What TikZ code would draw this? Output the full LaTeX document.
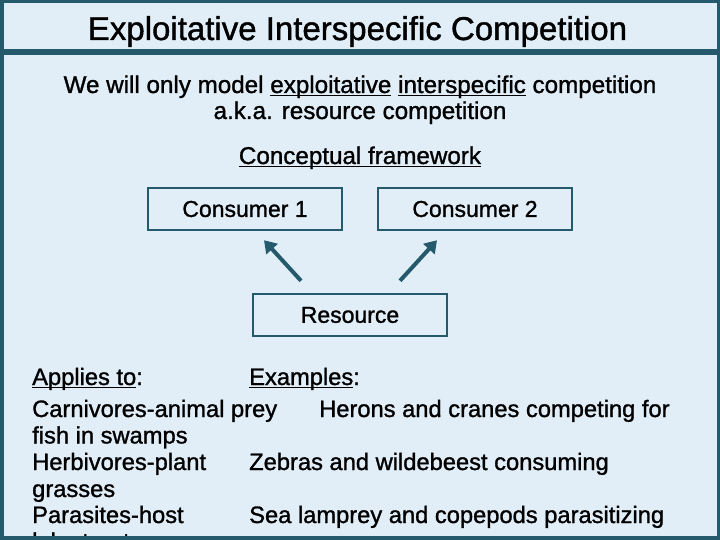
\documentclass[tikz,border=0pt]{standalone}
\usepackage{fontspec}
\setmainfont[FakeBold=1.2]{Liberation Sans}
\usetikzlibrary{arrows.meta}
\definecolor{teal1}{HTML}{245A6B}
\definecolor{pale}{HTML}{E1EEF7}
\newcommand{\myul}[1]{\setbox0=\hbox{#1}\rlap{\rule[-3pt]{\wd0}{1.4pt}}\box0\relax}
\tikzset{
  titletext/.style={anchor=base, inner sep=0pt, font=\fontsize{33}{38}\selectfont},
  subtext/.style={anchor=base, inner sep=0pt, font=\fontsize{24.2}{28}\selectfont},
  boxnode/.style={draw=teal1, line width=2.5pt, fill=pale, minimum width=194pt, minimum height=42pt, inner sep=0pt, font=\fontsize{23}{27}\selectfont},
  bodytext/.style={anchor=base west, inner sep=0pt, font=\fontsize{23.7}{27}\selectfont},
  arr/.style={draw=teal1, line width=4pt, -{Triangle[length=12pt,width=15pt]}}
}
\begin{document}
\begin{tikzpicture}[x=1pt,y=-1pt]
\useasboundingbox (0,0) rectangle (720,540);
\clip (0,0) rectangle (720,540);
\fill[teal1] (0,0) rectangle (720,540);
\fill[pale] (4,3) rectangle (717,49);
\fill[pale] (4,55) rectangle (717,536);

\node[titletext] (title) at (357.5,40) {Exploitative Interspecific Competition};

\node[subtext] (sub1) at (360,93) {We will only model \myul{exploitative} \myul{interspecific} competition};
\node[subtext] (sub2) at (360,119) {a.k.a. resource competition};
\node[subtext] (frame) at (360,164) {\myul{Conceptual framework}};

\node[boxnode] (c1) at (245,209) {Consumer 1};
\node[boxnode] (c2) at (475,209) {Consumer 2};
\node[boxnode] (res) at (350,315) {Resource};

\draw[arr] ([shift={(-49,-12)}]res.north) -- ([shift={(19,9)}]c1.south);
\draw[arr] ([shift={(50,-12)}]res.north) -- ([shift={(-38,9)}]c2.south);

\node[bodytext] (applies) at (32,385) {\myul{Applies to}:};
\node[bodytext] (examples) at (249,385) {\myul{Examples}:};
\node[bodytext] (carn) at (32,417) {Carnivores-animal prey};
\node[bodytext] (heron) at (319,417) {Herons and cranes competing for};
\node[bodytext] (fish) at (32,443.5) {fish in swamps};
\node[bodytext] (herb) at (32,470) {Herbivores-plant};
\node[bodytext] (zebra) at (249,470) {Zebras and wildebeest consuming};
\node[bodytext] (grass) at (32,497) {grasses};
\node[bodytext] (para) at (32,523) {Parasites-host};
\node[bodytext] (lamp) at (249,523) {Sea lamprey and copepods parasitizing};
\node[bodytext] (lake) at (32,549.5) {lake trout};

\fill[teal1] (0,536) rectangle (720,540);
\end{tikzpicture}
\end{document}
